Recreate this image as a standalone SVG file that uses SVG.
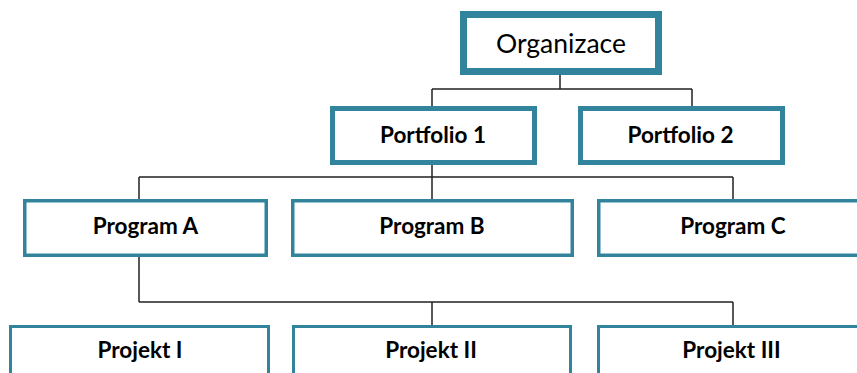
<svg xmlns="http://www.w3.org/2000/svg" width="857" height="373" viewBox="0 0 857 373">
<style>
.box{fill:#fff;stroke:#31849B}
.l1{stroke-width:7}
.l2{stroke-width:5}
.l3{stroke-width:3.5}
.l4{stroke-width:3}
.t{font-family:Lato,"Open Sans","Liberation Sans",sans-serif;font-weight:bold;font-size:22.5px;fill:#000;text-anchor:middle}
.tt{font-family:Lato,"Open Sans","Liberation Sans",sans-serif;font-size:26.5px;fill:#000;text-anchor:middle}
.c{fill:none;stroke:#222;stroke-width:1.5}
</style>
<rect width="857" height="373" fill="#fff"/>
<g id="connectors">
<path class="c" d="M560 75V89M432 89H692M432 89V106M692 89V106"/>
<path class="c" d="M432 165V177M139 177H733M139 177V199M432 177V199M733 177V199"/>
<path class="c" d="M139 257V302M139 302H733M432 302V325M733 302V325"/>
</g>
<g id="organizace">
<rect class="box l1" x="463.5" y="14.5" width="195" height="57"/>
<text class="tt" x="561" y="53">Organizace</text>
</g>
<g id="portfolio1">
<rect class="box l2" x="332.5" y="108.5" width="202" height="54"/>
<text class="t" x="433" y="143">Portfolio 1</text>
</g>
<g id="portfolio2">
<rect class="box l2" x="580.5" y="108.5" width="202" height="54"/>
<text class="t" x="680.5" y="143">Portfolio 2</text>
</g>
<g id="programA">
<rect class="box l3" x="24.75" y="200.75" width="241.5" height="54.5"/>
<text class="t" x="145.5" y="234">Program A</text>
</g>
<g id="programB">
<rect class="box l3" x="292.75" y="200.75" width="279.5" height="54.5"/>
<text class="t" x="432" y="234">Program B</text>
</g>
<g id="programC">
<rect class="box l3" x="598.75" y="200.75" width="279.5" height="54.5"/>
<text class="t" x="733" y="234">Program C</text>
</g>
<g id="projektI">
<rect class="box l4" x="10.5" y="326.5" width="258" height="70"/>
<text class="t" x="140" y="358">Projekt I</text>
</g>
<g id="projektII">
<rect class="box l4" x="293.5" y="326.5" width="277" height="70"/>
<text class="t" x="431" y="358">Projekt II</text>
</g>
<g id="projektIII">
<rect class="box l4" x="598.5" y="326.5" width="280" height="70"/>
<text class="t" x="731.5" y="358">Projekt III</text>
</g>
</svg>
